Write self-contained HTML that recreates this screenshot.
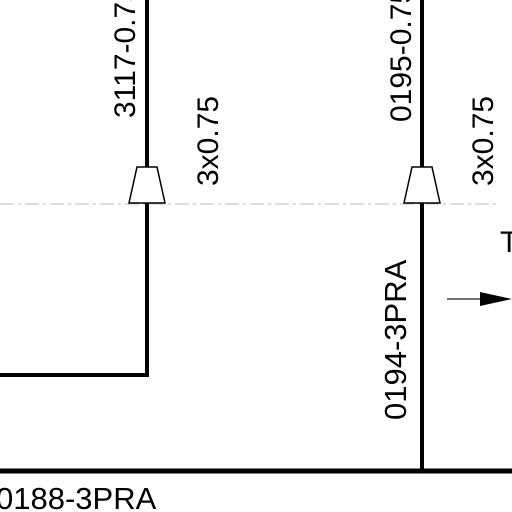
<!DOCTYPE html>
<html><head><meta charset="utf-8"><style>
html,body{margin:0;padding:0;background:#fff;}
svg{display:block;font-family:"Liberation Sans",Arial,sans-serif;}
</style></head><body>
<svg width="512" height="512" viewBox="0 0 512 512">
  <line x1="0" y1="204" x2="500" y2="204" stroke="#bbb" stroke-width="1" stroke-dasharray="14,4,3,4"/>
  <g>
    <line x1="147" y1="0" x2="147" y2="168" stroke="#000" stroke-width="4"/>
    <polyline points="147,203 147,375 0,375" fill="none" stroke="#000" stroke-width="4"/>
  </g>
  <polygon points="137,167 157,167 165,203 129,203" fill="#fff" stroke="#000" stroke-width="1.5"/>
  <g>
    <line x1="422" y1="0" x2="422" y2="168" stroke="#000" stroke-width="4"/>
    <line x1="422" y1="203" x2="422" y2="471" stroke="#000" stroke-width="4"/>
  </g>
  <polygon points="412,167 432,167 440,203 404,203" fill="#fff" stroke="#000" stroke-width="1.5"/>
  <line x1="0" y1="471" x2="512" y2="471" stroke="#000" stroke-width="5"/>
  <line x1="447" y1="299" x2="495" y2="299" stroke="#444" stroke-width="1.5"/>
  <polygon points="480,292 512,299 480,306" fill="#000"/>
  <text x="500" y="252" font-size="30">T</text>
  <text transform="translate(135,118) rotate(-90)" font-size="30">3117-0.75</text>
  <text transform="translate(218,186) rotate(-90)" font-size="30">3x0.75</text>
  <text transform="translate(411,122) rotate(-90)" font-size="30">0195-0.75</text>
  <text transform="translate(493,186) rotate(-90)" font-size="30">3x0.75</text>
  <text transform="translate(406,420) rotate(-90)" font-size="31">0194-3PRA</text>
  <text x="-4" y="509" font-size="31">0188-3PRA</text>
</svg>
</body></html>
